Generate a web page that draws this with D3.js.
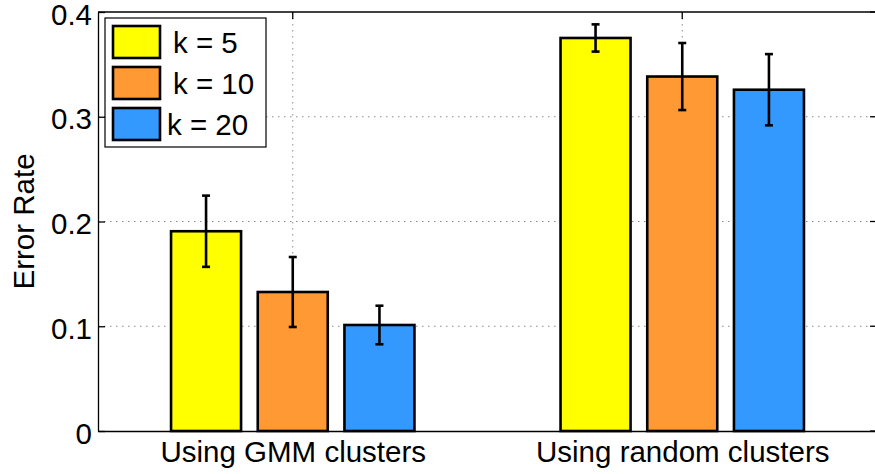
<!DOCTYPE html>
<html lang="en">
<head>
  <meta charset="UTF-8" />
  <title>Error Rate by clustering</title>
  <script src="https://d3js.org/d3.v7.min.js"></script>
  <style>
    html, body {
      margin: 0;
      padding: 0;
      background: #ffffff;
    }

    svg text {
      font-family: 'Liberation Sans', Arial, Helvetica, sans-serif;
      font-size: 29.5px;
      fill: #000;
    }

    .grid-line {
      stroke: #8a8a8a;
      stroke-width: 1;
      stroke-dasharray: 1.5, 4.5;
    }

    .bar {
      stroke: #000;
      stroke-width: 2.6;
    }

    .err {
      stroke: #000;
      stroke-width: 2.6;
    }
  </style>
</head>
<body>
  <div id="chart"></div>

  <script>
    // data
    const groups = ["Using GMM clusters", "Using random clusters"];
    const seriesNames = ["k = 5", "k = 10", "k = 20"];
    const seriesColors = ["#ffff00", "#ff9933", "#3399ff"];
    const meanK5 = [0.1907, 0.3752];
    const meanK10 = [0.1327, 0.3384];
    const meanK20 = [0.1012, 0.3258];
    const errK5 = [0.034, 0.013];
    const errK10 = [0.0334, 0.032];
    const errK20 = [0.0184, 0.034];
    const yTicks = [0, 0.1, 0.2, 0.3, 0.4];

    function buildRows() {
      const means = [meanK5, meanK10, meanK20];
      const errs = [errK5, errK10, errK20];
      const rows = [];
      groups.forEach((g, gi) => {
        seriesNames.forEach((s, si) => {
          rows.push({
            group: gi + 1,
            series: s,
            color: seriesColors[si],
            value: means[si][gi],
            err: errs[si][gi]
          });
        });
      });
      return rows;
    }

    function renderChart(rows) {
      const svgWidth = 875;
      const svgHeight = 474;
      const plot = { left: 98, right: 877, top: 12, bottom: 431 };

      const svg = d3.select("#chart")
        .append("svg")
        .attr("width", svgWidth)
        .attr("height", svgHeight);

      const x = d3.scaleLinear()
        .domain([0.5, 2.5])
        .range([plot.left, plot.right]);

      const y = d3.scaleLinear()
        .domain([0, 0.4])
        .range([plot.bottom, plot.top]);

      // offsets of the bars inside a group, in pixels
      const xSub = d3.scaleBand()
        .domain(seriesNames)
        .range([-121.7, 121.7])
        .paddingInner(0.1925)
        .paddingOuter(0);

      // grid
      const grid = svg.append("g");
      grid.selectAll(".gy")
        .data(yTicks.filter(t => t > 0 && t < 0.4))
        .enter()
        .append("line")
        .attr("class", "grid-line")
        .attr("x1", plot.left)
        .attr("x2", plot.right)
        .attr("y1", d => y(d))
        .attr("y2", d => y(d));

      grid.selectAll(".gx")
        .data([1, 2])
        .enter()
        .append("line")
        .attr("class", "grid-line")
        .attr("x1", d => x(d))
        .attr("x2", d => x(d))
        .attr("y1", plot.top)
        .attr("y2", plot.bottom);

      // frame: top and right edges with inward ticks
      const frame = svg.append("g");
      frame.append("line")
        .attr("x1", plot.left).attr("x2", plot.right)
        .attr("y1", plot.top).attr("y2", plot.top)
        .attr("stroke", "#000").attr("stroke-width", 1.3);
      frame.append("line")
        .attr("x1", plot.right).attr("x2", plot.right)
        .attr("y1", plot.top).attr("y2", plot.bottom)
        .attr("stroke", "#000").attr("stroke-width", 1.3);
      frame.selectAll(".tt")
        .data([1, 2])
        .enter()
        .append("line")
        .attr("x1", d => x(d)).attr("x2", d => x(d))
        .attr("y1", plot.top).attr("y2", plot.top + 7)
        .attr("stroke", "#000").attr("stroke-width", 1.3);
      frame.selectAll(".rt")
        .data(yTicks)
        .enter()
        .append("line")
        .attr("x1", plot.right - 7).attr("x2", plot.right)
        .attr("y1", d => y(d)).attr("y2", d => y(d))
        .attr("stroke", "#000").attr("stroke-width", 1.3);

      // bars
      svg.append("g")
        .selectAll("rect")
        .data(rows)
        .enter()
        .append("rect")
        .attr("class", "bar")
        .attr("x", d => x(d.group) + xSub(d.series))
        .attr("width", xSub.bandwidth())
        .attr("y", d => y(d.value))
        .attr("height", d => y(0) - y(d.value))
        .attr("fill", d => d.color);

      // error bars
      const errG = svg.append("g")
        .selectAll("g")
        .data(rows)
        .enter()
        .append("g")
        .attr("class", "err");

      const cx = d => x(d.group) + xSub(d.series) + xSub.bandwidth() / 2;

      errG.append("line")
        .attr("x1", cx).attr("x2", cx)
        .attr("y1", d => y(d.value + d.err))
        .attr("y2", d => y(d.value - d.err));
      errG.append("line")
        .attr("x1", d => cx(d) - 4).attr("x2", d => cx(d) + 4)
        .attr("y1", d => y(d.value + d.err))
        .attr("y2", d => y(d.value + d.err));
      errG.append("line")
        .attr("x1", d => cx(d) - 4).attr("x2", d => cx(d) + 4)
        .attr("y1", d => y(d.value - d.err))
        .attr("y2", d => y(d.value - d.err));

      // left axis
      const yAxis = svg.append("g")
        .attr("transform", `translate(${plot.left},0)`)
        .call(d3.axisLeft(y)
          .tickValues(yTicks)
          .tickFormat(d => d === 0 ? "0" : d3.format(".1f")(d))
          .tickSizeInner(-7)
          .tickSizeOuter(0)
          .tickPadding(6));
      yAxis.selectAll("path, line").attr("stroke", "#000").attr("stroke-width", 1.3);
      yAxis.selectAll("text")
        .attr("font-size", null)
        .attr("font-family", null)
        .attr("dy", "0.41em");

      // bottom axis
      const xAxis = svg.append("g")
        .attr("transform", `translate(0,${plot.bottom})`)
        .call(d3.axisBottom(x)
          .tickValues([1, 2])
          .tickFormat((d, i) => groups[i])
          .tickSizeInner(-7)
          .tickSizeOuter(0)
          .tickPadding(10));
      xAxis.selectAll("path, line").attr("stroke", "#000").attr("stroke-width", 1.3);
      xAxis.selectAll("text")
        .attr("font-size", null)
        .attr("font-family", null)
        .attr("dy", "0.72em");
      // bar outlines sit on top of the bottom ticks
      xAxis.lower();

      // y label
      svg.append("text")
        .attr("transform", `translate(34,${(plot.top + plot.bottom) / 2}) rotate(-90)`)
        .attr("text-anchor", "middle")
        .text("Error Rate");

      createLegend(svg);
    }

    function createLegend(svg) {
      const lg = svg.append("g").attr("transform", "translate(105,18)");
      lg.append("rect")
        .attr("width", 161)
        .attr("height", 129)
        .attr("fill", "#fff")
        .attr("stroke", "#000")
        .attr("stroke-width", 1.2);

      const labelShift = [0, 0, -6];
      const items = lg.selectAll(".legend-item")
        .data(seriesNames)
        .enter()
        .append("g")
        .attr("class", "legend-item")
        .attr("transform", (d, i) => `translate(8, ${8 + i * 41})`);

      items.append("rect")
        .attr("width", 47)
        .attr("height", 32)
        .attr("fill", (d, i) => seriesColors[i])
        .attr("stroke", "#000")
        .attr("stroke-width", 2.6);

      items.append("text")
        .attr("x", (d, i) => 60 + labelShift[i])
        .attr("y", 16)
        .attr("dy", "0.37em")
        .text(d => d);
    }

    renderChart(buildRows());
  </script>
</body>
</html>
